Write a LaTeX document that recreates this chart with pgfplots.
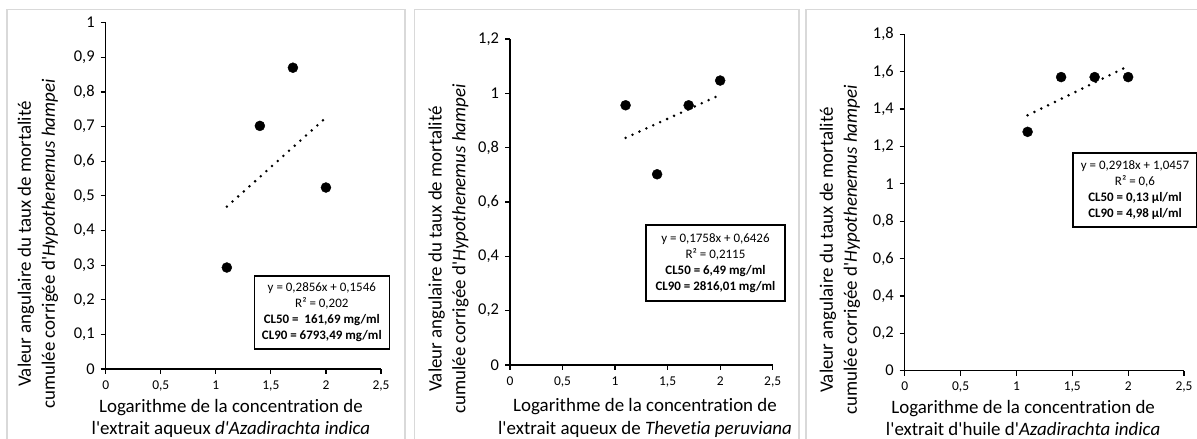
\documentclass[border=0pt]{standalone}
\usepackage{pgfplots}
\pgfplotsset{compat=1.18}
\usepackage{fontspec}
\setmainfont{Carlito}[Ligatures={TeXOff,NoCommon}]
\definecolor{panelgray}{HTML}{D9D9D9}
\pgfplotsset{
  panel/.style={
    scale only axis,
    axis x line*=bottom, axis y line*=left,
    xmin=0, xmax=2.5, ymin=0,
    xtick={0,0.5,1,1.5,2,2.5},
    tick align=outside,
    major tick length=5bp,
    axis line style={line width=1.2bp, black},
    every tick/.style={black, line width=1.2bp},
    /pgf/number format/.cd, use comma, assume math mode=true,
    /pgfplots/.cd,
    x tick label style={font=\fontsize{13.5}{13.5}\selectfont, yshift=-3bp},
    y tick label style={font=\fontsize{16.5}{16.5}\selectfont, xshift=-2.5bp},
    clip=false,
    xlabel style={anchor=center, align=center, font=\fontsize{19}{22.5}\selectfont},
    ylabel style={anchor=center, align=center, rotate=0, font=\fontsize{19}{24}\selectfont},
  },
  trend/.style={black, line width=2.8bp, line cap=round, dash pattern=on 0bp off 7.6bp},
  pts/.style={only marks, mark=*, mark size=5bp, black},
}
\tikzset{eqbox/.style={draw, line width=1.6bp, align=center, inner sep=2bp, font=\fontsize{13}{16}\selectfont, fill=white}}
\newcommand{\ylab}{Valeur angulaire du taux de mortalité\\cumulée corrigée d'\textit{Hypothenemus hampei}}
\begin{document}
\begin{tikzpicture}[x=1bp,y=1bp]
\useasboundingbox (0,0) rectangle (1197,439);
\draw[panelgray, line width=1.5bp] (7,-10) -- (7,429.3) -- (405,429.3) -- (405,-10);
\draw[panelgray, line width=1.5bp] (414.3,-10) -- (414.3,429.3) -- (799,429.3) -- (799,-10);
\draw[panelgray, line width=1.5bp] (806,-10) -- (806,429.3) -- (1210,429.3);

% Panel 1
\begin{axis}[panel, at={(105.7bp,70bp)}, anchor=origin, width=275.3bp, height=346.3bp,
  ymax=1, ytick={0,0.1,0.2,0.3,0.4,0.5,0.6,0.7,0.8,0.9,1},
  xlabel={Logarithme de la concentration de\\l'extrait aqueux \textit{d'Azadirachta indica}},
  xlabel style={at={(axis description cs:0.455,-0.1425)}},
  ylabel={\ylab},
  ylabel style={at={(axis description cs:-0.246,0.361)}, rotate=0},
]
\addplot[trend] coordinates {(1.1,0.4688) (2.0,0.7258)};
\addplot[pts] coordinates {(1.1,0.293) (1.4,0.702) (1.7,0.870) (2.0,0.524)};
\node[eqbox, minimum width=135bp, minimum height=73bp] at (axis description cs:0.785,0.163)
  {y = 0,2856x + 0,1546\\R² = 0,202\\\textbf{CL50 =\ \ 161,69 mg/ml}\\\textbf{CL90 = 6793,49 mg/ml}};
\end{axis}

% Panel 2
\begin{axis}[panel, at={(510bp,74bp)}, anchor=origin, width=262.7bp, height=326bp,
  ymax=1.2, ytick={0,0.2,0.4,0.6,0.8,1,1.2},
  xlabel={Logarithme de la concentration de\\l'extrait aqueux de \textit{Thevetia peruviana}},
  xlabel style={at={(axis description cs:0.514,-0.163)}},
  ylabel={\ylab},
  ylabel style={at={(axis description cs:-0.234,0.356)}},
]
\addplot[trend] coordinates {(1.1,0.8360) (2.0,0.9942)};
\addplot[pts] coordinates {(1.1,0.956) (1.4,0.702) (1.7,0.956) (2.0,1.047)};
\node[eqbox, minimum width=139bp, minimum height=76bp] at (axis description cs:0.782,0.313)
  {y = 0,1758x + 0,6426\\R² = 0,2115\\\textbf{CL50 = 6,49 mg/ml}\\\textbf{CL90 = 2816,01 mg/ml}};
\end{axis}

% Panel 3
\begin{axis}[panel, at={(904.7bp,68.3bp)}, anchor=origin, width=279.3bp, height=336.4bp,
  ymax=1.8, ytick={0,0.2,0.4,0.6,0.8,1,1.2,1.4,1.6,1.8},
  xlabel={Logarithme de la concentration de\\l'extrait d'huile d'\textit{Azadirachta indica}},
  xlabel style={at={(axis description cs:0.424,-0.141)}},
  ylabel={\ylab},
  ylabel style={at={(axis description cs:-0.2317,0.359)}},
]
\addplot[trend] coordinates {(1.1,1.3667) (2.0,1.6293)};
\addplot[pts] coordinates {(1.1,1.278) (1.4,1.571) (1.7,1.571) (2.0,1.571)};
\node[eqbox, minimum width=124bp, minimum height=74bp] at (axis description cs:0.8245,0.537)
  {y = 0,2918x + 1,0457\\R² = 0,6\\\textbf{CL50 = 0,13 µl/ml}\\\textbf{CL90 = 4,98 µl/ml}};
\end{axis}
\end{tikzpicture}
\end{document}
